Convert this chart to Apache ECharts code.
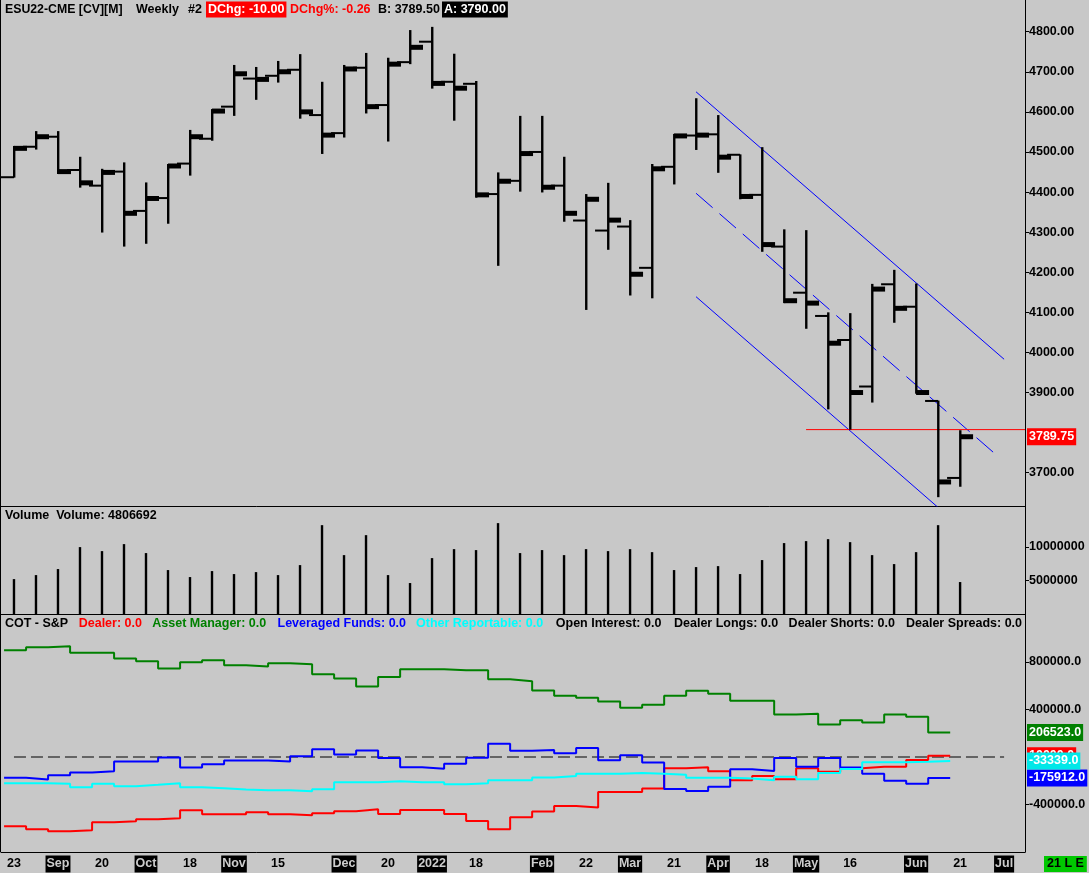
<!DOCTYPE html>
<html><head><meta charset="utf-8">
<script src="https://cdn.jsdelivr.net/npm/echarts@6/dist/echarts.min.js"></script>
<style>html,body{margin:0;padding:0;background:#c8c8c8}#c{width:1089px;height:873px}</style>
</head><body><div id="c"></div>
<script>
// ---- data ----
const weekStart = ['2021-08-23','2021-08-30','2021-09-06','2021-09-13','2021-09-20','2021-09-27','2021-10-04','2021-10-11','2021-10-18','2021-10-25','2021-11-01','2021-11-08','2021-11-15','2021-11-22','2021-11-29','2021-12-06','2021-12-13','2021-12-20','2021-12-27','2022-01-03','2022-01-10','2022-01-17','2022-01-24','2022-01-31','2022-02-07','2022-02-14','2022-02-21','2022-02-28','2022-03-07','2022-03-14','2022-03-21','2022-03-28','2022-04-04','2022-04-11','2022-04-18','2022-04-25','2022-05-02','2022-05-09','2022-05-16','2022-05-23','2022-05-30','2022-06-06','2022-06-13','2022-06-20'];
const opens  = [4437,4513,4538,4455,4416,4451,4353,4385,4471,4533,4613,4683,4690,4705,4592,4547,4710,4617,4724,4775,4675,4670,4395,4428,4500,4416,4329,4304,4314,4211,4463,4541,4544,4493,4393,4264,4149,4091,4031,3915,4170,4114,3879,3687];
const highs  = [4515,4552,4552,4488,4458,4474,4424,4470,4555,4607,4717,4712,4727,4744,4675,4717,4747,4735,4804,4812,4745,4677,4449,4590,4590,4488,4395,4423,4330,4470,4545,4634,4592,4494,4512,4307,4305,4100,4098,4171,4206,4172,3880,3806];
const lows   = [4436,4506,4445,4411,4299,4264,4271,4321,4441,4528,4590,4630,4673,4583,4495,4536,4596,4526,4719,4658,4578,4386,4216,4401,4399,4326,4106,4256,4142,4135,4419,4505,4448,4382,4251,4123,4059,3858,3807.5,3875,4074,3897,3639,3665];
const closes = [4509,4538,4451,4423,4449,4347,4384,4465,4538,4602,4695,4681,4700,4600,4542,4707,4613,4719,4761,4671,4659,4393,4427,4496,4412,4347,4382,4330,4195,4458,4540,4542,4487,4389,4269,4129,4123,4023,3900,4158,4110,3900,3677,3789.75];
const volumes = [5240000,5830000,6720000,9950000,9360000,10390000,9070000,6570000,5540000,6420000,5980000,6270000,5830000,7300000,13180000,8770000,11710000,5830000,4660000,8330000,9650000,9510000,13480000,9070000,9510000,8770000,9650000,9360000,9650000,9210000,6570000,7010000,7150000,5980000,8040000,10540000,10830000,11120000,10680000,8770000,7450000,9210000,13180000,4806692];
// COT (one value per week, last week not yet reported)
const dealer   = [-583000,-608000,-625000,-616000,-549000,-541000,-524000,-515000,-448000,-482000,-482000,-465000,-482000,-490000,-473000,-456000,-440000,-480000,-446000,-446000,-480000,-538000,-608000,-508000,-458000,-412000,-426000,-295000,-295000,-265000,-95000,-86000,-120000,-195000,-159000,-187000,-95000,-125000,-95000,-83000,-83000,-25000,10000];
const assetMgr = [899000,925000,933000,877000,877000,829000,807000,745000,798000,815000,773000,762000,790000,782000,697000,661000,594000,674000,738000,738000,730000,730000,654000,638000,560000,516000,499000,468000,415000,440000,516000,558000,532000,474000,474000,357000,365000,273000,309000,290000,357000,340000,206523];
const levFunds = [-175000,-189000,-153000,-131000,-119000,-38000,-38000,-4000,-88000,-60000,-29000,-29000,-38000,7000,66000,21000,55000,-8000,-87000,-98000,-56000,-7000,111000,53000,58000,31000,75000,-28000,14000,-47000,-270000,-287000,-251000,-103000,-117000,-8000,-83000,-8000,-89000,-142000,-201000,-226000,-175912];
const otherRep = [-221000,-221000,-226000,-254000,-226000,-246000,-234000,-221000,-254000,-263000,-274000,-279000,-279000,-288000,-271000,-212000,-212000,-204000,-212000,-212000,-229000,-221000,-196000,-196000,-172000,-159000,-142000,-142000,-134000,-142000,-150000,-175000,-175000,-181000,-195000,-167000,-187000,-134000,-100000,-44000,-44000,-39000,-33339];
// trend channel (week index, price)
const channelX      = [31, 45];
const channelUpper  = [4650, 3983];
const channelMidX   = [31, 44.8];
const channelMiddle = [4397, 3737];
const channelLower  = [4139, 3470];
const supportLevel = 3807.5;
const supportFromX = 36;
const zeroLineX = [0, 45];
// axis ticks
const xTickIdx  = [0,2,4,6,8,10,12,15,17,19,21,24,26,28,30,32,34,36,38,41,43,45];
const xTickText = ['23','Sep','20','Oct','18','Nov','15','Dec','20','2022','18','Feb','22','Mar','21','Apr','18','May','16','Jun','21','Jul'];
const priceTicks = [3700,3900,4000,4100,4200,4300,4400,4500,4600,4700,4800];
const volTicks = [5000000,10000000];
const cotTicks = [800000,400000,-400000];

// ---- chart ----
const F = '"Liberation Sans", Arial, sans-serif';
const X_MIN = -0.59, X_MAX = 45.95;
const chart = echarts.init(document.getElementById('c'), null, {renderer:'canvas'});

function xAx(grid, withLabels){
  const ax = {type:'value', gridIndex:grid, min:X_MIN, max:X_MAX,
    axisLine:{show:true, onZero:false, lineStyle:{color:'#000', width:1}},
    axisTick:{show:false}, splitLine:{show:false}, axisLabel:{show:false}};
  if (withLabels) {
    ax.axisLabel = {show:true, customValues:xTickIdx, margin:5,
      formatter:(v)=>{ const k = xTickIdx.indexOf(Math.round(v)); if(k<0) return ''; const t = xTickText[k];
        return /^\d{1,2}$/.test(t) ? '{d|'+t+'}' : '{m|'+t+'}'; },
      rich:{
        d:{color:'#000', fontFamily:F, fontWeight:'bold', fontSize:12.5, lineHeight:14, padding:[2,1,2,1]},
        m:{color:'#cccccc', backgroundColor:'#000', fontFamily:F, fontWeight:'bold', fontSize:12.5, lineHeight:14, padding:[2,1,2,1]}
      }};
  }
  return ax;
}
function yAx(grid, min, max, ticks, fmt){
  return {type:'value', gridIndex:grid, position:'right', min:min, max:max,
    axisLine:{show:true, onZero:false, lineStyle:{color:'#000', width:1}},
    axisTick:{show:true, length:4, customValues:ticks, lineStyle:{color:'#000'}},
    axisLabel:{show:true, customValues:ticks, formatter:fmt, margin:4, color:'#000', fontFamily:F, fontWeight:'bold', fontSize:12.5},
    splitLine:{show:false}};
}
function lastMark(v, bg, digits){
  return {silent:true, symbol:'none', animation:false, lineStyle:{color:'rgba(0,0,0,0)', width:0},
    label:{show:true, position:'end', distance:2, formatter:()=>v.toFixed(digits), opacity:1,
      backgroundColor:bg, color:'#fff', fontFamily:F, fontWeight:'bold', fontSize:12.5, lineHeight:14, padding:[2,2,1,2]},
    emphasis:{disabled:true},
    data:[{yAxis:v}]};
}
function stepData(arr){ const out=[]; arr.forEach((v,i)=>{ out.push([i-0.45, v],[i+0.55, v]); }); return out; }
function cotLine(arr, color, z, labelBg){
  return {type:'line', xAxisIndex:2, yAxisIndex:2, data:stepData(arr), symbol:'none', silent:true, z:z,
    lineStyle:{color:color, width:2}, markLine:lastMark(arr[arr.length-1], labelBg, 1)};
}

const ohlcData = opens.map((o,i)=>[i, o, highs[i], lows[i], closes[i]]);

const option = {
  animation:false,
  backgroundColor:'#c8c8c8',
  textStyle:{fontFamily:F},
  grid:[
    {left:1, right:64, top:0, height:506},
    {left:1, right:64, top:506, height:108.7},
    {left:1, right:64, top:614.5, height:237.5}
  ],
  xAxis:[xAx(0,false), xAx(1,false), xAx(2,true)],
  yAxis:[
    yAx(0, 3617, 4879, priceTicks, v=>v.toFixed(2)),
    yAx(1, 0, 16000000, volTicks, v=>String(v)),
    yAx(2, -800000, 1200000, cotTicks, v=>v.toFixed(1))
  ],
  series:[
    {type:'line', xAxisIndex:0, yAxisIndex:0, data:[[channelX[0],channelUpper[0]],[channelX[1],channelUpper[1]]], symbol:'none', silent:true, z:3, lineStyle:{color:'#0000ff', width:1}},
    {type:'line', xAxisIndex:0, yAxisIndex:0, data:[[channelMidX[0],channelMiddle[0]],[channelMidX[1],channelMiddle[1]]], symbol:'none', silent:true, z:3, lineStyle:{color:'#0000ff', width:1, type:[22,9]}},
    {type:'line', xAxisIndex:0, yAxisIndex:0, data:[[channelX[0],channelLower[0]],[channelX[1],channelLower[1]]], symbol:'none', silent:true, z:3, clip:true, lineStyle:{color:'#0000ff', width:1}},
    {type:'line', xAxisIndex:0, yAxisIndex:0, data:[[supportFromX,supportLevel],[X_MAX,supportLevel]], symbol:'none', silent:true, z:3, lineStyle:{color:'#ff0000', width:1},
      markLine:lastMark(closes[closes.length-1], '#ff0000', 2)},
    {type:'custom', xAxisIndex:0, yAxisIndex:0, data:ohlcData, clip:true, z:4, silent:true,
      encode:{x:0, y:[1,2,3,4]},
      renderItem:(params, api)=>{
        const x = api.value(0);
        const pH = api.coord([x, api.value(2)]);
        const pL = api.coord([x, api.value(3)]);
        const pO = api.coord([x, api.value(1)]);
        const pC = api.coord([x, api.value(4)]);
        return {type:'group', children:[
          {type:'rect', shape:{x:pH[0]-1, y:pH[1], width:2.4, height:pL[1]-pH[1]}, style:{fill:'#000'}},
          {type:'rect', shape:{x:pO[0]-13, y:pO[1]-1, width:13, height:2}, style:{fill:'#000'}},
          {type:'rect', shape:{x:pC[0], y:pC[1]-2.5, width:13, height:5}, style:{fill:'#000'}}
        ]};
      }},
    {type:'bar', xAxisIndex:1, yAxisIndex:1, data:volumes.map((v,i)=>[i,v]), barWidth:2.4, silent:true, itemStyle:{color:'#000'}},
    {type:'line', xAxisIndex:2, yAxisIndex:2, data:[[zeroLineX[0],0],[zeroLineX[1],0]], symbol:'none', silent:true, z:2, lineStyle:{color:'#000', width:1, type:[12,5]}},
    cotLine(assetMgr, '#008000', 3, '#008000'),
    cotLine(dealer, '#ff0000', 4, '#ff0000'),
    cotLine(levFunds, '#0000ff', 5, '#0000ff'),
    cotLine(otherRep, '#00ffff', 6, '#00e8e8')
  ],
  graphic:[
    {type:'rect', shape:{x:0, y:0, width:1, height:852}, style:{fill:'#000'}, silent:true},
    // title row
    {type:'text', x:5, y:9.5, silent:true, style:{text:'ESU22-CME [CV][M]', font:'bold 12.3px '+F, fill:'#000', verticalAlign:'middle'}},
    {type:'text', x:136, y:9.5, silent:true, style:{text:'Weekly', font:'bold 12.5px '+F, fill:'#000', verticalAlign:'middle'}},
    {type:'text', x:188, y:9.5, silent:true, style:{text:'#2', font:'bold 12.5px '+F, fill:'#000', verticalAlign:'middle'}},
    {type:'text', x:206, y:9.5, silent:true, style:{text:'DChg: -10.00', font:'bold 12.5px '+F, fill:'#fff', backgroundColor:'#ff0000', padding:[2,2,1,2], verticalAlign:'middle'}},
    {type:'text', x:290, y:9.5, silent:true, style:{text:'DChg%: -0.26', font:'bold 12.5px '+F, fill:'#ff0000', verticalAlign:'middle'}},
    {type:'text', x:378, y:9.5, silent:true, style:{text:'B: 3789.50', font:'bold 12.5px '+F, fill:'#000', verticalAlign:'middle'}},
    {type:'text', x:442, y:9.5, silent:true, style:{text:'A: 3790.00', font:'bold 12.5px '+F, fill:'#fff', backgroundColor:'#000', padding:[2,2,1,2], verticalAlign:'middle'}},
    // volume title
    {type:'text', x:5, y:515.5, silent:true, style:{text:'Volume  Volume: '+volumes[volumes.length-1], font:'bold 12.5px '+F, fill:'#000', verticalAlign:'middle'}},
    // COT legend
    {type:'text', x:5, y:624, silent:true, style:{text:'COT - S&P', font:'bold 12.5px '+F, fill:'#000', verticalAlign:'middle'}},
    {type:'text', x:78.7, y:624, silent:true, style:{text:'Dealer: 0.0', font:'bold 12.5px '+F, fill:'#ff0000', verticalAlign:'middle'}},
    {type:'text', x:152.3, y:624, silent:true, style:{text:'Asset Manager: 0.0', font:'bold 12.5px '+F, fill:'#008000', verticalAlign:'middle'}},
    {type:'text', x:277.5, y:624, silent:true, style:{text:'Leveraged Funds: 0.0', font:'bold 12.5px '+F, fill:'#0000ff', verticalAlign:'middle'}},
    {type:'text', x:416, y:624, silent:true, style:{text:'Other Reportable: 0.0', font:'bold 12.5px '+F, fill:'#00ffff', verticalAlign:'middle'}},
    {type:'text', x:555.8, y:624, silent:true, style:{text:'Open Interest: 0.0', font:'bold 12.5px '+F, fill:'#000', verticalAlign:'middle'}},
    {type:'text', x:674, y:624, silent:true, style:{text:'Dealer Longs: 0.0', font:'bold 12.5px '+F, fill:'#000', verticalAlign:'middle'}},
    {type:'text', x:788.6, y:624, silent:true, style:{text:'Dealer Shorts: 0.0', font:'bold 12.5px '+F, fill:'#000', verticalAlign:'middle'}},
    {type:'text', x:906, y:624, silent:true, style:{text:'Dealer Spreads: 0.0', font:'bold 12.5px '+F, fill:'#000', verticalAlign:'middle'}},
    // status box
    {type:'text', x:1044, y:864, silent:true, style:{text:'21 L E', font:'bold 12.5px '+F, fill:'#000', backgroundColor:'#00c800', padding:[2,3,1,3], verticalAlign:'middle'}}
  ]
};
chart.setOption(option);
</script>
</body></html>
